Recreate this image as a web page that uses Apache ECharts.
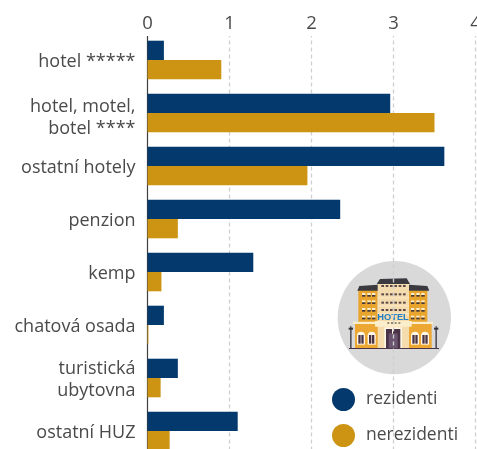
<!DOCTYPE html>
<html><head><meta charset="utf-8">
<style>html,body{margin:0;padding:0;background:#fff}#c{width:477px;height:449px}</style>
<script src="https://cdn.jsdelivr.net/npm/echarts@6/dist/echarts.min.js"></script>
</head><body><div id="c"></div>
<script>
const categories = ['hotel *****','hotel, motel,\nbotel ****','ostatní hotely','penzion','kemp','chatová osada','turistická\nubytovna','ostatní HUZ'];
const rezidenti = [0.2,2.96,3.62,2.35,1.29,0.2,0.37,1.1];
const nerezidenti = [0.9,3.5,1.95,0.37,0.17,0.01,0.16,0.27];
const seriesNames = ['rezidenti','nerezidenti'];
const NAVY='#03396c', GOLD='#cc9412', TEXT='#4a4a4a', FONT='"Open Sans"';

function icon(){
  const c=[];
  const R=(x,y,w,h,fill)=>c.push({type:'rect',shape:{x,y,width:w,height:h},style:{fill}});
  const P=(pts,fill)=>c.push({type:'polygon',shape:{points:pts},style:{fill}});
  c.push({type:'circle',shape:{cx:223,cy:203,r:170},style:{fill:'#d9d9d9'}});
  R(115,120,58,97,'#e8a42c'); R(267,120,55,97,'#e8a42c');
  R(173,100,94,117,'#f5dcae');
  P([[112,122],[118,108],[173,104],[173,122]],'#3b3a40');
  P([[267,104],[322,108],[328,122],[267,122]],'#3b3a40');
  P([[170,102],[180,87],[260,85],[270,102]],'#3b3a40');
  [129,151,174,197].forEach(y=>{
    [127,143,157,274,290,305].forEach(x=>{R(x-1,y,10,6,'#fbeecb');R(x-1,y+6,10,5,'#4a3a3a');});
  });
  [105,130,155,177].forEach(y=>{
    [184,197,210,223,236,249].forEach(x=>R(x,y,8,6,'#5a4a4a'));
  });
  [122,146,170].forEach(y=>R(173,y+20,94,3,'#fbe9c4'));
  R(105,222,230,73,'#eca832');
  R(173,222,94,73,'#f5dcae');
  R(99,215,240,7,'#fbeecb');
  R(165,213,110,17,'#fbeecb');
  [202,213,224,235].forEach(x=>R(x,217,6,4,'#6a5a4a'));
  R(193,232,53,62,'#fff8e6');
  R(198,237,43,57,'#4a3346');
  R(206,250,27,44,'#6a5470');
  R(216,237,3,14,'#fff8e6');
  [[111,257],[143,257],[273,257],[303,257]].forEach(([x,y])=>{
    R(x,y,24,27,'#fff8e6');
    c.push({type:'circle',shape:{cx:x+12,cy:y,r:12},style:{fill:'#fff8e6'}});
    R(x+4,y-2,16,26,'#4a3346');
    R(x+11,y-8,2,33,'#fff8e6');
  });
  [92,348].forEach(x=>{
    R(x-2,236,5,58,'#555560');
    R(x-6,233,13,6,'#33333a');
    R(x-1,228,3,6,'#33333a');
  });
  R(87,294,270,3,'#4a3346');
  c.push({type:'text',x:219,y:203,style:{text:'HOTEL',fill:'#1e7fc4',font:'bold 28px "Liberation Sans Narrow","Liberation Sans"',textAlign:'center',textVerticalAlign:'middle'}});
  return {type:'group',x:320,y:250,scaleX:1/3,scaleY:1/3,children:c,silent:true};
}

const catStyle = p => ({color:TEXT,fontSize:18,fontFamily:FONT,lineHeight:22,padding:[p,0,0,0]});

const chart = echarts.init(document.getElementById('c'),null,{renderer:'canvas'});
chart.setOption({
  animation:false,
  backgroundColor:'#fff',
  textStyle:{fontFamily:FONT},
  grid:{left:147.5,top:33.5,width:328,height:424,containLabel:false,outerBoundsMode:'none'},
  xAxis:{type:'value',position:'top',min:0,max:4,interval:1,
    axisLine:{show:false},axisTick:{show:false},
    axisLabel:{color:TEXT,fontSize:18.5,margin:0,fontFamily:FONT,showMaxLabel:true,showMinLabel:true,hideOverlap:false,
      formatter:v=>'{a|'+v+'}',
      rich:{a:{color:TEXT,fontSize:18.5,fontFamily:FONT,padding:[4,0,0,0]}}},
    splitLine:{show:true,showMinLine:false,showMaxLine:true,lineStyle:{color:'#cfcfcf',type:[4,3],width:1.3}}},
  yAxis:{type:'category',inverse:true,data:categories,
    axisLine:{show:true,onZero:false,lineStyle:{color:'#3f3f3f',width:1.2}},
    axisTick:{show:false},
    axisLabel:{color:TEXT,fontSize:18,margin:12,lineHeight:22,fontFamily:FONT,align:'right',interval:0,
      formatter:(v,i)=>{const k=i===1?'m':(i===6?'t':'s');return v.split('\n').map(l=>'{'+k+'|'+l+'}').join('\n');},
      rich:{s:catStyle(3),m:catStyle(9),t:catStyle(4)}}},
  legend:{show:true,orient:'vertical',left:332,top:388,padding:0,height:70,itemWidth:23,itemHeight:23,itemGap:13,icon:'circle',
    data:seriesNames,selectedMode:false,
    textStyle:{color:TEXT,fontSize:17.5,fontFamily:FONT,padding:[0,0,0,6]}},
  series:[
    {name:seriesNames[0],type:'bar',data:rezidenti,barWidth:19.3,barGap:'0%',itemStyle:{color:NAVY}},
    {name:seriesNames[1],type:'bar',data:nerezidenti,barWidth:19.3,barGap:'0%',itemStyle:{color:GOLD}}
  ],
  graphic:[
    {type:'rect',shape:{x:140,y:30,width:337,height:6},style:{fill:'#fff'},silent:true,z:1},
    icon()
  ]
});
</script></body></html>
